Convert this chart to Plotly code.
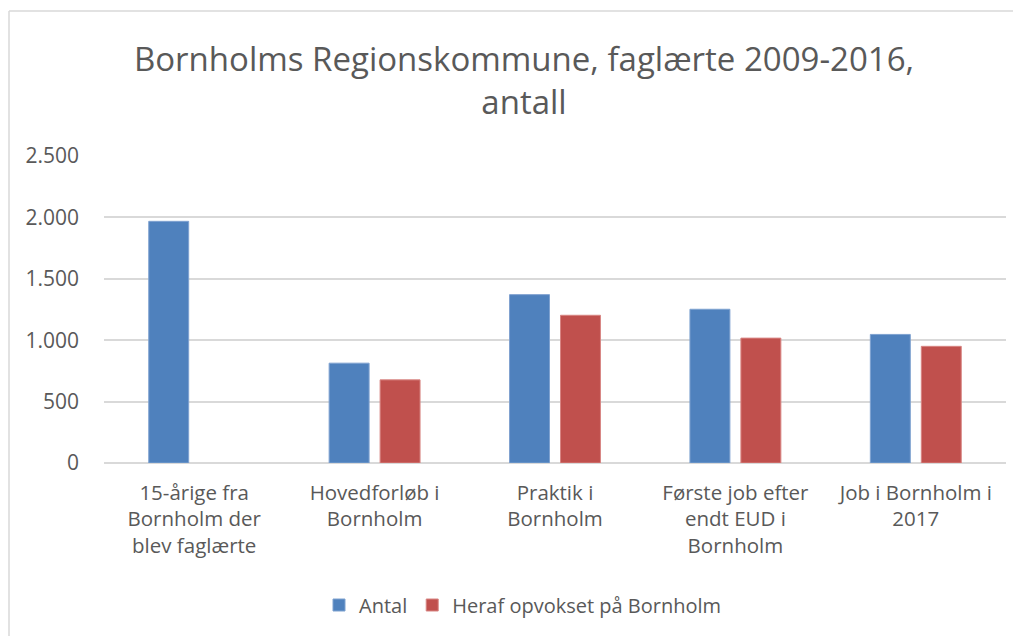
import plotly.graph_objects as go

categories = [
    "15-årige fra<br>Bornholm der<br>blev faglærte",
    "Hovedforløb i<br>Bornholm",
    "Praktik i<br>Bornholm",
    "Første job efter<br>endt EUD i<br>Bornholm",
    "Job i Bornholm i<br>2017",
]
antal = [1968, 813, 1371, 1252, 1047]
heraf = [None, 677, 1203, 1017, 950]
series_names = ["Antal", "Heraf opvokset på Bornholm"]
y_ticks = [0, 500, 1000, 1500, 2000, 2500]

# page is rendered with an 8px body offset
OFF = 8
W, H = 1021, 636
L, R, T, B = 104 - OFF, 15 + OFF, 156 - OFF, 173 + OFF
pw, ph = W - L - R, H - T - B
FONT = "Open Sans"
GREY = "#595959"

fig = go.Figure()
fig.add_trace(go.Bar(x=categories, y=antal, name=series_names[0],
                     marker=dict(color="#4F81BD", line=dict(color="#7FA2D0", width=1))))
fig.add_trace(go.Bar(x=categories, y=heraf, name=series_names[1],
                     marker=dict(color="#C0504D", line=dict(color="#D88583", width=1))))

def px_x(p):
    return (p - OFF - L) / pw

def px_y(p):
    return (H - B - (p - OFF)) / ph

fig.update_layout(
    width=W, height=H,
    margin=dict(l=L, r=R, t=T, b=B, autoexpand=False),
    paper_bgcolor="white", plot_bgcolor="white",
    separators=",.",
    font=dict(family=FONT, color=GREY, size=20),
    barmode="group", bargap=0.435, bargroupgap=0.216,
    title=dict(text="Bornholms Regionskommune, faglærte 2009-2016,<br>antall",
               x=(524 - OFF) / W, xanchor="center", xref="container",
               y=1 - (71 - OFF) / H, yanchor="middle",
               font=dict(family=FONT, size=33, color=GREY)),
    xaxis=dict(showline=False, ticks="", tickfont=dict(size=20.5, color=GREY),
               ticklabelstandoff=15, automargin=False),
    yaxis=dict(range=[0, 2500], tickvals=y_ticks, tickformat=",d",
               showgrid=True, gridcolor="#D9D9D9", gridwidth=1.5,
               zeroline=True, zerolinecolor="#D9D9D9", zerolinewidth=1.5,
               showline=False, ticks="", tickfont=dict(size=21, color=GREY),
               ticklabelstandoff=24, automargin=False),
    legend=dict(orientation="h", x=(523 - OFF) / W, xref="container", xanchor="center",
                y=1 - (605 - OFF) / H, yref="container", yanchor="middle",
                font=dict(size=20, color=GREY), traceorder="normal",
                itemwidth=30),
    showlegend=True,
    shapes=[
        dict(type="line", xref="paper", yref="paper",
             x0=px_x(9), x1=px_x(9), y0=px_y(11), y1=px_y(660),
             line=dict(color="#D9D9D9", width=1.5)),
        dict(type="line", xref="paper", yref="paper",
             x0=px_x(9), x1=px_x(1040), y0=px_y(11), y1=px_y(11),
             line=dict(color="#D9D9D9", width=1.5)),
    ],
)

fig.write_html("out.html")
